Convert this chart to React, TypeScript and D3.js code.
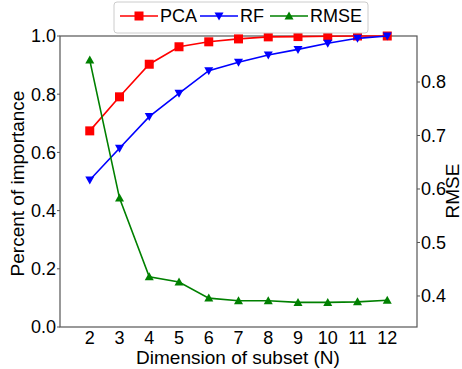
import React from "react";
import * as d3 from "d3";

const dims = [2, 3, 4, 5, 6, 7, 8, 9, 10, 11, 12];
const pca = [0.674, 0.791, 0.903, 0.963, 0.98, 0.99, 0.997, 0.998, 0.999, 1.0, 1.0];
const rf = [0.505, 0.614, 0.723, 0.803, 0.881, 0.91, 0.935, 0.954, 0.975, 0.992, 1.0];
const rmse = [0.841, 0.583, 0.436, 0.426, 0.396, 0.391, 0.391, 0.388, 0.388, 0.389, 0.392];
const leftTicks = [0, 0.2, 0.4, 0.6, 0.8, 1.0];
const rightTicks = [0.4, 0.5, 0.6, 0.7, 0.8];

const W = 462, H = 369;
const L = 60, R = 417, T = 36, B = 327;
const FONT = "'Liberation Sans', Arial, sans-serif";

export default function App() {
  const x = d3.scaleLinear().domain([1, 13]).range([L, R]);
  const yL = d3.scaleLinear().domain([0, 1]).range([B, T]);
  const yR = d3.scaleLinear().domain([0.342, 0.886]).range([B, T]);

  const lineL = d3.line<number>().x((_, i) => x(dims[i])).y((d) => yL(d));
  const lineR = d3.line<number>().x((_, i) => x(dims[i])).y((d) => yR(d));

  const sq = (cx: number, cy: number, k: string) => (
    <rect key={k} x={cx - 4.5} y={cy - 4.5} width={9} height={9} fill="red" />
  );
  const triDown = (cx: number, cy: number, k: string) => (
    <path key={k} d={`M${cx - 4.5},${cy - 3.5}L${cx + 4.5},${cy - 3.5}L${cx},${cy + 4.5}Z`} fill="blue" />
  );
  const triUp = (cx: number, cy: number, k: string) => (
    <path key={k} d={`M${cx - 4.5},${cy + 3.5}L${cx + 4.5},${cy + 3.5}L${cx},${cy - 4.5}Z`} fill="green" />
  );

  return (
    <svg width={W} height={H} style={{ position: "absolute", left: 0, top: 0, fontFamily: FONT }}>
      <rect x={0} y={0} width={W} height={H} fill="white" />
      {/* frame */}
      <rect x={L} y={T} width={R - L} height={B - T} fill="none" stroke="#555" strokeWidth={1.2} />
      {/* left ticks */}
      {leftTicks.map((t) => (
        <g key={"l" + t}>
          <line x1={L - 3} x2={L} y1={yL(t)} y2={yL(t)} stroke="#555" />
          <text x={L - 4} y={yL(t)} dy="0.35em" textAnchor="end" fontSize={18} fill="#000">
            {t.toFixed(1)}
          </text>
        </g>
      ))}
      {/* right ticks */}
      {rightTicks.map((t) => (
        <g key={"r" + t}>
          <line x1={R} x2={R + 3} y1={yR(t)} y2={yR(t)} stroke="#555" />
          <text x={R + 4} y={yR(t)} dy="0.35em" textAnchor="start" fontSize={18} fill="#000">
            {t.toFixed(1)}
          </text>
        </g>
      ))}
      {/* x ticks */}
      {dims.map((d) => (
        <text key={"x" + d} x={x(d)} y={344} textAnchor="middle" fontSize={18} fill="#000">
          {d}
        </text>
      ))}
      <text x={238} y={364} textAnchor="middle" fontSize={19} fill="#000">
        Dimension of subset (N)
      </text>
      <text transform={`translate(24,${(T + B) / 2 + 2}) rotate(-90)`} textAnchor="middle" fontSize={19} fill="#000">
        Percent of importance
      </text>
      <text transform={`translate(459,191) rotate(-90)`} textAnchor="middle" fontSize={19} fill="#000">
        RMSE
      </text>
      {/* series */}
      <path d={lineL(pca) || ""} fill="none" stroke="red" strokeWidth={1.6} />
      {pca.map((v, i) => sq(x(dims[i]), yL(v), "p" + i))}
      <path d={lineL(rf) || ""} fill="none" stroke="blue" strokeWidth={1.6} />
      {rf.map((v, i) => triDown(x(dims[i]), yL(v), "f" + i))}
      <path d={lineR(rmse) || ""} fill="none" stroke="green" strokeWidth={1.6} />
      {rmse.map((v, i) => triUp(x(dims[i]), yR(v), "r" + i))}
      {/* legend */}
      <rect x={114} y={2} width={254} height={31} rx={3} fill="white" stroke="#ccc" strokeWidth={1} />
      <line x1={120} x2={158} y1={16} y2={16} stroke="red" strokeWidth={1.6} />
      {sq(139, 16, "lp")}
      <text x={160} y={16} dy="0.35em" fontSize={18} fill="#000">PCA</text>
      <line x1={200} x2={238} y1={16} y2={16} stroke="blue" strokeWidth={1.6} />
      {triDown(219, 16, "lf")}
      <text x={240} y={16} dy="0.35em" fontSize={18} fill="#000">RF</text>
      <line x1={270} x2={308} y1={16} y2={16} stroke="green" strokeWidth={1.6} />
      {triUp(289, 16, "lr")}
      <text x={310} y={16} dy="0.35em" fontSize={18} fill="#000">RMSE</text>
    </svg>
  );
}
